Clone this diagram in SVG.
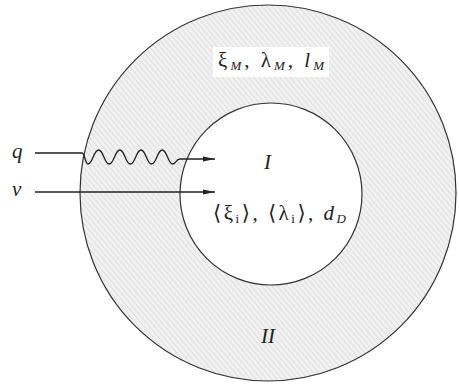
<svg xmlns="http://www.w3.org/2000/svg" width="459" height="390" viewBox="0 0 459 390">
<style>
.ring{stroke:#333;stroke-width:1.2}
.lbl{font-family:"Liberation Serif","DejaVu Serif",serif;font-size:21px;fill:#222}
.it{font-style:italic}
.sub{font-size:13px;font-style:italic}
.sub2{font-size:13px}
.conn{fill:none;stroke:#222;stroke-width:1.3}
</style>
<defs>
<pattern id="hatch" width="4" height="4" patternUnits="userSpaceOnUse" patternTransform="rotate(-40)">
<rect width="4" height="4" fill="#f1f1f1"/>
<line x1="0" y1="0" x2="0" y2="4" stroke="#cfcfcf" stroke-width="1"/>
</pattern>
<marker id="arr" viewBox="0 0 12 6" refX="12" refY="3" markerWidth="12" markerHeight="6" markerUnits="userSpaceOnUse" orient="auto">
<path d="M0,0.6 L12,3 L0,5.4 Z" fill="#222"/>
</marker>
</defs>
<rect width="459" height="390" fill="#fff"/>
<g id="region-II">
<circle class="ring" cx="268" cy="193" r="188" fill="url(#hatch)"/>
<rect x="213" y="47" width="116" height="30" fill="#fff"/>
<text class="lbl" x="218" y="67" textLength="106" lengthAdjust="spacing">ξ<tspan class="sub" dy="3">M</tspan><tspan dy="-3">, λ</tspan><tspan class="sub" dy="3">M</tspan><tspan dy="-3">, </tspan><tspan class="it">l</tspan><tspan class="sub" dy="3">M</tspan></text>
<text class="lbl it" x="261" y="343" font-size="22">II</text>
</g>
<g id="region-I">
<circle class="ring" cx="271" cy="194" r="91" fill="#fff"/>
<text class="lbl it" x="264" y="169" font-size="22">I</text>
<text class="lbl" x="213" y="220" textLength="133" lengthAdjust="spacing">⟨ξ<tspan class="sub2" dy="3">i</tspan><tspan dy="-3">⟩, ⟨λ</tspan><tspan class="sub2" dy="3">i</tspan><tspan dy="-3">⟩, </tspan><tspan class="it">d</tspan><tspan class="sub" dy="3">D</tspan></text>
</g>
<g id="source-q">
<text class="lbl it" x="12" y="158">q</text>
</g>
<g id="source-v">
<text class="lbl it" x="12" y="196">v</text>
</g>
<g id="connectors">
<path class="conn" marker-end="url(#arr)" d="M35,153 H82 C85,153 85,164 88,164 c4.6,0 5.6,-14 10.6,-14 s5.6,14 10.6,14 s5.6,-14 10.6,-14 s5.6,14 10.6,14 s5.6,-14 10.6,-14 s5.6,14 10.6,14 s5.6,-14 10.6,-14 s5.6,14 10.6,14 C176,164 176,159 180,159 H215"/>
<path class="conn" marker-end="url(#arr)" d="M35,192 H215"/>
</g>
</svg>
